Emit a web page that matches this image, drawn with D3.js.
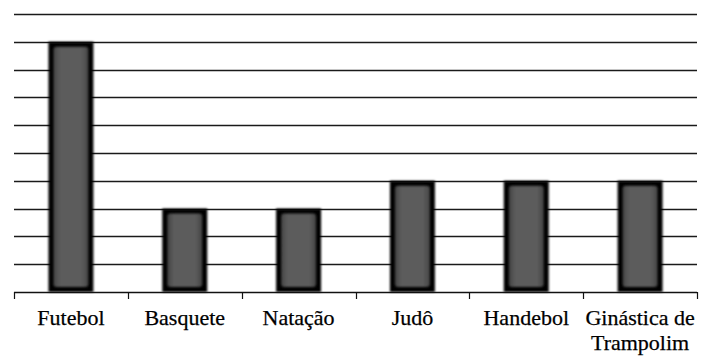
<!DOCTYPE html>
<html>
<head>
<meta charset="utf-8">
<script src="https://cdn.jsdelivr.net/npm/d3@7"></script>
<style>
  html, body { margin: 0; padding: 0; background: #fff; }
  svg { display: block; }
</style>
</head>
<body>
<div id="chart"></div>
<script>
const categories = ['Futebol', 'Basquete', 'Natação', 'Judô', 'Handebol', 'Ginástica de Trampolim'];
const values     = [9, 3, 3, 4, 4, 4];
const gridTicks  = [0, 1, 2, 3, 4, 5, 6, 7, 8, 9, 10];

const W = 712, H = 363;
const svg = d3.select('#chart').append('svg').attr('width', W).attr('height', H);

const x = d3.scaleBand().domain(categories).range([14, 697]).padding(0);
const y = d3.scaleLinear().domain([0, 10]).range([292, 14]);
const barW = x.bandwidth() * 0.395;

const defs = svg.append('defs');
defs.append('filter').attr('id', 'soft')
  .attr('x', '-20%').attr('y', '-20%').attr('width', '140%').attr('height', '140%')
  .append('feGaussianBlur').attr('stdDeviation', 1);
const grad = defs.append('linearGradient').attr('id', 'barfill')
  .attr('x1', 0).attr('x2', 1).attr('y1', 0).attr('y2', 0);
grad.append('stop').attr('offset', '0%').attr('stop-color', '#444');
grad.append('stop').attr('offset', '18%').attr('stop-color', '#5b5b5b');
grad.append('stop').attr('offset', '82%').attr('stop-color', '#5b5b5b');
grad.append('stop').attr('offset', '100%').attr('stop-color', '#444');

// gridlines
svg.append('g').selectAll('line').data(gridTicks.filter(d => d > 0)).join('line')
  .attr('x1', 14).attr('x2', 697)
  .attr('y1', d => Math.round(y(d)) + 0.5).attr('y2', d => Math.round(y(d)) + 0.5)
  .attr('stroke', '#1a1a1a').attr('stroke-width', 1.4);

// bars
const bars = svg.append('g').selectAll('g').data(categories).join('g');
bars.append('rect')
  .attr('x', d => x(d) + x.bandwidth() / 2 - barW / 2)
  .attr('y', (d, i) => y(values[i]))
  .attr('width', barW)
  .attr('height', (d, i) => y(0) - y(values[i]))
  .attr('fill', '#050505')
  .attr('filter', 'url(#soft)');
bars.append('rect')
  .attr('x', d => x(d) + x.bandwidth() / 2 - barW / 2 + 5)
  .attr('y', (d, i) => y(values[i]) + 5)
  .attr('width', barW - 10)
  .attr('height', (d, i) => y(0) - y(values[i]) - 10)
  .attr('rx', 3)
  .attr('fill', 'url(#barfill)')
  .attr('filter', 'url(#soft)');

// axis baseline + ticks
svg.append('line')
  .attr('x1', 14).attr('x2', 697).attr('y1', 292.5).attr('y2', 292.5)
  .attr('stroke', '#111').attr('stroke-width', 1.4);
const edges = categories.map(d => x(d)).concat([x.range()[1]]);
svg.append('g').selectAll('line').data(edges).join('line')
  .attr('x1', d => Math.round(d) + 0.5).attr('x2', d => Math.round(d) + 0.5)
  .attr('y1', 292).attr('y2', 299)
  .attr('stroke', '#111').attr('stroke-width', 1.2);

// labels
const lines = { 'Ginástica de Trampolim': ['Ginástica de', 'Trampolim'] };
svg.append('g').selectAll('text').data(categories).join('text')
  .attr('x', d => x(d) + x.bandwidth() / 2)
  .attr('y', 325)
  .attr('text-anchor', 'middle')
  .style('font-family', "'Liberation Serif'")
  .style('font-size', '22px')
  .attr('fill', '#000')
  .attr('stroke', '#000').attr('stroke-width', 0.25)
  .each(function(d) {
    const parts = lines[d] || [d];
    d3.select(this).selectAll('tspan').data(parts).join('tspan')
      .attr('x', x(d) + x.bandwidth() / 2)
      .attr('dy', (p, i) => i === 0 ? 0 : 25)
      .text(p => p);
  });
</script>
</body>
</html>
